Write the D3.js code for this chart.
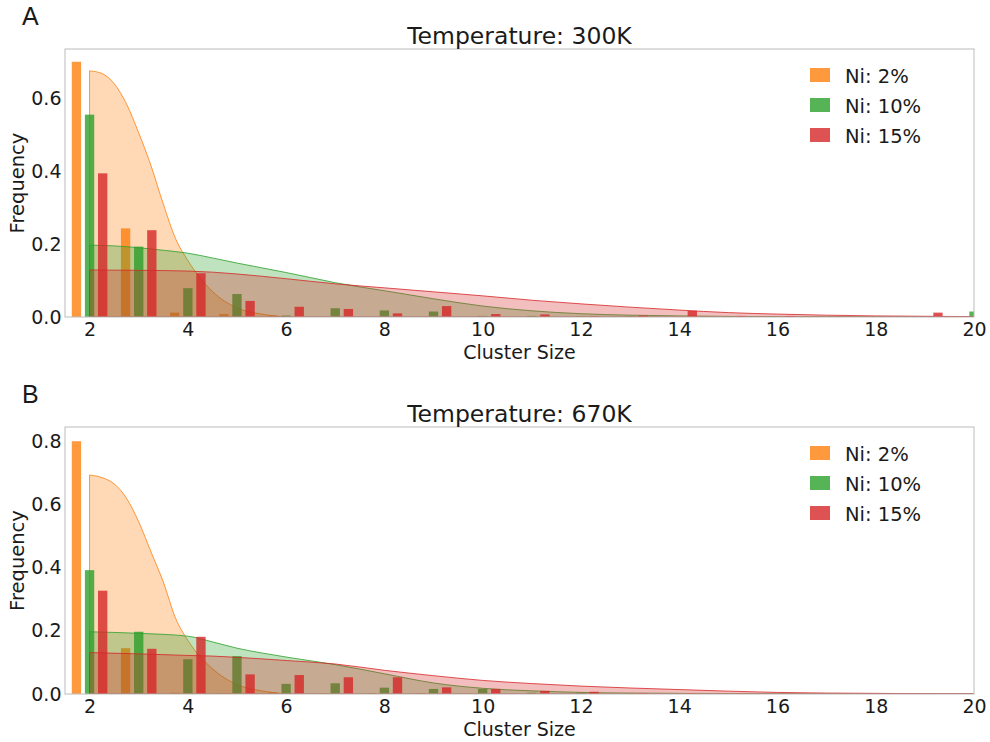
<!DOCTYPE html>
<html>
<head>
<meta charset="utf-8">
<script src="https://cdn.jsdelivr.net/npm/d3@7"></script>
<style>
  body { margin: 0; background: #fff; }
  text { font-family: "DejaVu Sans", sans-serif; fill: #1a1a1a; }
</style>
</head>
<body>
<div id="chart"></div>
<script>
var svgWidth = 990;
var svgHeight = 742;

// cluster sizes used for the histogram bars
var sizes = [2, 3, 4, 5, 6, 7, 8, 9, 10, 11, 12, 13, 14, 15, 16, 17, 18, 19, 20];
var seriesNames = ["Ni: 2%", "Ni: 10%", "Ni: 15%"];
var colors = ["#ff7f0e", "#2ca02c", "#d62728"];

// 300K bar frequencies
var ni2_300 = [0.70, 0.243, 0.012, 0.008, 0.004, 0, 0, 0, 0, 0, 0, 0, 0, 0, 0, 0, 0, 0, 0];
var ni10_300 = [0.555, 0.193, 0.079, 0.063, 0.004, 0.024, 0.018, 0.015, 0.003, 0.003, 0.002, 0.002, 0, 0.002, 0, 0, 0, 0, 0.015];
var ni15_300 = [0.394, 0.238, 0.12, 0.044, 0.028, 0.022, 0.010, 0.030, 0.008, 0.007, 0.002, 0.004, 0.017, 0.003, 0.003, 0.001, 0, 0.012, 0];

// 670K bar frequencies
var ni2_670 = [0.80, 0.145, 0.004, 0.003, 0.005, 0.002, 0.003, 0.003, 0, 0, 0, 0, 0, 0, 0, 0, 0, 0, 0];
var ni10_670 = [0.392, 0.197, 0.11, 0.12, 0.032, 0.034, 0.02, 0.016, 0.016, 0.004, 0.004, 0.002, 0.001, 0, 0, 0, 0, 0, 0];
var ni15_670 = [0.327, 0.143, 0.181, 0.062, 0.06, 0.053, 0.053, 0.021, 0.016, 0.01, 0.007, 0.003, 0.002, 0.001, 0, 0, 0, 0, 0];

// density curves (x, y)
var ni2CurveX = [2, 2.25, 2.5, 2.75, 3, 3.25, 3.5, 3.75, 4, 4.5, 5, 5.5, 6];
var ni2Curve300 = [0.675, 0.668, 0.64, 0.585, 0.505, 0.415, 0.31, 0.215, 0.155, 0.07, 0.025, 0.008, 0];
var ni2Curve670 = [0.693, 0.685, 0.665, 0.62, 0.545, 0.45, 0.355, 0.24, 0.17, 0.08, 0.03, 0.01, 0];

var ni10CurveX300 = [2, 2.5, 3, 3.5, 4, 4.5, 5, 5.5, 6, 6.5, 7, 8, 9, 10, 11, 12, 13, 14, 16, 18, 20];
var ni10Curve300 = [0.197, 0.195, 0.19, 0.183, 0.175, 0.162, 0.148, 0.135, 0.122, 0.108, 0.094, 0.072, 0.05, 0.03, 0.017, 0.009, 0.005, 0.003, 0.001, 0.0005, 0];
var ni10CurveX670 = [2, 3, 4, 4.5, 5, 5.5, 6, 6.5, 7, 8, 9, 10, 11, 12, 13, 14, 16, 18, 20];
var ni10Curve670 = [0.197, 0.192, 0.183, 0.165, 0.145, 0.13, 0.117, 0.105, 0.093, 0.064, 0.035, 0.018, 0.01, 0.005, 0.003, 0.002, 0.001, 0.0005, 0];

var ni15CurveX = [2, 3, 4, 4.5, 5, 6, 7, 8, 9, 10, 11, 12, 13, 14, 15, 16, 17, 18, 19, 20];
var ni15Curve300 = [0.129, 0.128, 0.126, 0.123, 0.118, 0.105, 0.091, 0.08, 0.069, 0.058, 0.046, 0.036, 0.027, 0.019, 0.012, 0.008, 0.005, 0.003, 0.002, 0.001];
var ni15Curve670 = [0.131, 0.127, 0.122, 0.12, 0.116, 0.106, 0.095, 0.075, 0.058, 0.043, 0.033, 0.025, 0.019, 0.014, 0.009, 0.005, 0.003, 0.002, 0.001, 0.0005];

var xTicks = [2, 4, 6, 8, 10, 12, 14, 16, 18, 20];
var yTicks300 = [0, 0.2, 0.4, 0.6];
var yTicks670 = [0, 0.2, 0.4, 0.6, 0.8];

var svg = d3.select("#chart")
  .append("svg")
  .attr("width", svgWidth)
  .attr("height", svgHeight);

var zip = (xs, ys) => xs.map((x, i) => ({x: x, y: ys[i]}));

function drawPanel(p) {
  var left = 65, right = 974;
  var x = d3.scaleLinear().domain([1.5, 20]).range([left, right]);
  var y = d3.scaleLinear().domain([0, p.yMax]).range([p.bottom, p.top]);

  var g = svg.append("g");
  var clipId = "clip" + p.letter;
  svg.append("clipPath").attr("id", clipId)
    .append("rect")
    .attr("x", left).attr("y", p.top)
    .attr("width", right - left).attr("height", p.bottom - p.top);

  var plot = g.append("g").attr("clip-path", `url(#${clipId})`);

  var offsets = [-0.267, 0, 0.267];
  var barW = 0.19;
  var area = d3.area()
    .x(d => x(d.x))
    .y0(y(0))
    .y1(d => y(d.y))
    .curve(d3.curveMonotoneX);

  // each series: its histogram bars, then its density fill on top
  p.bars.forEach(function(vals, s) {
    plot.selectAll(null)
      .data(sizes.map((n, i) => ({n: n, v: vals[i]})).filter(d => d.v > 0))
      .enter()
      .append("rect")
      .attr("x", d => x(d.n + offsets[s] - barW / 2))
      .attr("width", d => x(d.n + offsets[s] + barW / 2) - x(d.n + offsets[s] - barW / 2))
      .attr("y", d => y(d.v))
      .attr("height", d => y(0) - y(d.v))
      .attr("fill", colors[s])
      .attr("fill-opacity", 0.8);

    var c = p.curves[s];
    plot.append("path")
      .datum(zip(c[0], c[1]))
      .attr("d", area)
      .attr("fill", colors[s])
      .attr("fill-opacity", 0.3)
      .attr("stroke", colors[s])
      .attr("stroke-opacity", 0.8)
      .attr("stroke-width", 1);
  });

  // frame
  g.append("rect")
    .attr("x", left).attr("y", p.top)
    .attr("width", right - left).attr("height", p.bottom - p.top)
    .attr("fill", "none")
    .attr("stroke", "#bcbcbc")
    .attr("stroke-width", 1);

  var xAxis = g.append("g")
    .attr("transform", `translate(0, ${p.bottom})`)
    .call(d3.axisBottom(x).tickValues(xTicks).tickSize(0).tickPadding(6).tickFormat(d3.format("d")));
  var yAxis = g.append("g")
    .attr("transform", `translate(${left}, 0)`)
    .call(d3.axisLeft(y).tickValues(p.yTicks).tickSize(0).tickPadding(3.5).tickFormat(d3.format(".1f")));
  [xAxis, yAxis].forEach(function(a) {
    a.select(".domain").remove();
    a.selectAll("text")
      .style("font-family", "DejaVu Sans")
      .style("font-size", "19px")
      .attr("fill", "#1a1a1a");
  });

  g.append("text")
    .attr("x", (left + right) / 2)
    .attr("y", p.bottom + 42)
    .attr("text-anchor", "middle")
    .style("font-size", "19px")
    .text("Cluster Size");

  g.append("text")
    .attr("transform", `translate(24, ${(p.top + p.bottom) / 2}) rotate(-90)`)
    .attr("text-anchor", "middle")
    .style("font-size", "19.5px")
    .text("Frequency");

  g.append("text")
    .attr("x", (left + right) / 2)
    .attr("y", p.top - 5)
    .attr("text-anchor", "middle")
    .style("font-size", "23.5px")
    .text(p.title);

  g.append("text")
    .attr("x", 22)
    .attr("y", p.top - 24)
    .style("font-family", "Liberation Sans, sans-serif")
    .style("font-size", "25px")
    .text(p.letter);

  // legend
  var legend = g.append("g").attr("transform", `translate(810, ${p.top + 19})`);
  seriesNames.forEach(function(name, i) {
    legend.append("rect")
      .attr("x", 0).attr("y", i * 30)
      .attr("width", 20).attr("height", 14)
      .attr("fill", colors[i])
      .attr("fill-opacity", 0.8);
    legend.append("text")
      .attr("x", 35).attr("y", i * 30 + 14.5)
      .style("font-size", "19.5px")
      .text(name);
  });
}

drawPanel({
  letter: "A", title: "Temperature: 300K",
  top: 49, bottom: 317, yMax: 0.735, yTicks: yTicks300,
  bars: [ni2_300, ni10_300, ni15_300],
  curves: [[ni2CurveX, ni2Curve300], [ni10CurveX300, ni10Curve300], [ni15CurveX, ni15Curve300]]
});

drawPanel({
  letter: "B", title: "Temperature: 670K",
  top: 427, bottom: 694, yMax: 0.845, yTicks: yTicks670,
  bars: [ni2_670, ni10_670, ni15_670],
  curves: [[ni2CurveX, ni2Curve670], [ni10CurveX670, ni10Curve670], [ni15CurveX, ni15Curve670]]
});
</script>
</body>
</html>
